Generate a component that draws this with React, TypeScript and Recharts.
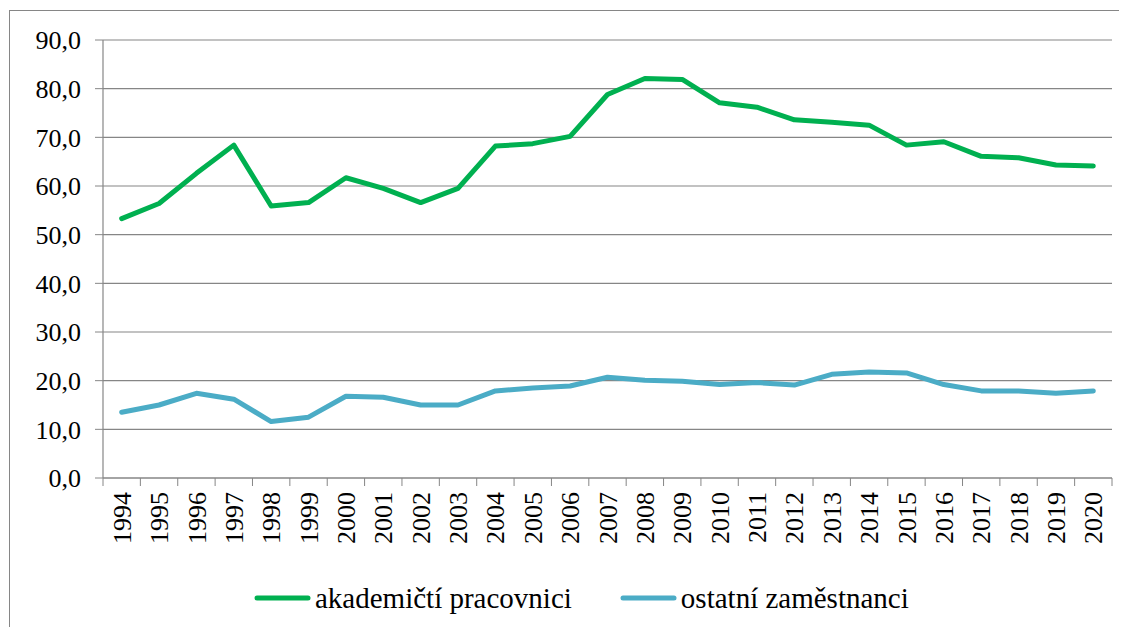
import React from "react";
import { LineChart, Line, XAxis, YAxis, CartesianGrid, Legend } from "recharts";

const years = [
  "1994", "1995", "1996", "1997", "1998", "1999", "2000", "2001", "2002",
  "2003", "2004", "2005", "2006", "2007", "2008", "2009", "2010", "2011",
  "2012", "2013", "2014", "2015", "2016", "2017", "2018", "2019", "2020",
];

const akademicti = [
  53.3, 56.4, 62.6, 68.4, 55.9, 56.6, 61.7, 59.5, 56.6, 59.5, 68.2, 68.7,
  70.2, 78.8, 82.1, 81.9, 77.1, 76.2, 73.6, 73.1, 72.5, 68.4, 69.1, 66.1,
  65.8, 64.3, 64.1,
];

const ostatni = [
  13.5, 15.0, 17.4, 16.2, 11.6, 12.5, 16.8, 16.6, 15.0, 15.0, 17.9, 18.5,
  18.9, 20.7, 20.1, 19.9, 19.2, 19.6, 19.1, 21.3, 21.8, 21.6, 19.2, 17.9,
  17.9, 17.4, 17.9,
];

const yTicks = [0, 10, 20, 30, 40, 50, 60, 70, 80, 90];

const seriesNames = ["akademičtí pracovnici", "ostatní zaměstnanci"];
const seriesColors = ["#00B050", "#4BACC6"];

const data = years.map((y, i) => ({
  year: y,
  akademicti: akademicti[i],
  ostatni: ostatni[i],
}));

const W = 1119;
const H = 619;
const margin = { top: 32, right: 15, left: 0, bottom: 0 };
const yAxisWidth = 95;
const plotW = W - margin.left - margin.right - yAxisWidth;
const half = plotW / years.length / 2;
const font = "Liberation Serif, DejaVu Serif, serif";
const gray = "#868686";

const YearTick = (props: any) => {
  const { x, y, payload, index } = props;
  const axisY = y - 14;
  return (
    <g>
      <line x1={x - half} x2={x - half} y1={axisY} y2={axisY + 8} stroke={gray} />
      {index === years.length - 1 && (
        <line x1={x + half} x2={x + half} y1={axisY} y2={axisY + 8} stroke={gray} />
      )}
      <text
        transform={`translate(${x},${y}) rotate(-90)`}
        textAnchor="end"
        dy="0.35em"
        style={{ fontFamily: font }}
        fontSize={26}
        fill="#000"
      >
        {payload.value}
      </text>
    </g>
  );
};

const LegendContent = () => (
  <div style={{ display: "flex", alignItems: "center", fontFamily: font, fontSize: 29, color: "#000" }}>
    {seriesNames.map((name, i) => (
      <div key={name} style={{ display: "flex", alignItems: "center", marginRight: 48 }}>
        <svg width={57} height={10} style={{ marginRight: 4 }}>
          <line x1={3} x2={54} y1={5} y2={5} stroke={seriesColors[i]} strokeWidth={5} strokeLinecap="round" />
        </svg>
        <span>{name}</span>
      </div>
    ))}
  </div>
);

export default function App() {
  return (
    <div style={{ position: "relative", width: W, height: H, overflow: "hidden", fontFamily: font }}>
      <div
        style={{
          position: "absolute",
          left: 1,
          top: 2,
          width: 1300,
          height: 800,
          borderLeft: `1px solid ${gray}`,
          borderTop: `1px solid ${gray}`,
        }}
      />
      <LineChart width={W} height={H} data={data} margin={margin} style={{ position: "absolute", left: 0, top: 0, fontFamily: font }}>
        <CartesianGrid vertical={false} stroke={gray} strokeWidth={1.2} />
        <XAxis
          dataKey="year"
          interval={0}
          padding={{ left: half, right: half }}
          height={109}
          tickLine={false}
          tickSize={8}
          tickMargin={6}
          axisLine={{ stroke: gray, strokeWidth: 1.2 }}
          tick={<YearTick />}
        />
        <YAxis
          domain={[0, 90]}
          ticks={yTicks}
          width={yAxisWidth}
          tickSize={8}
          tickMargin={14}
          axisLine={{ stroke: gray, strokeWidth: 1.2 }}
          tickLine={{ stroke: gray }}
          tickFormatter={(v: number) => v.toFixed(1).replace(".", ",")}
          tick={{ fill: "#000", fontSize: 26, style: { fontFamily: font } }}
        />
        <Legend
          verticalAlign="bottom"
          height={40}
          content={<LegendContent />}
          wrapperStyle={{ left: 246, top: 570, width: 850, height: 40, display: "flex", alignItems: "center" }}
        />
        <Line
          dataKey="akademicti"
          name={seriesNames[0]}
          stroke={seriesColors[0]}
          strokeWidth={5}
          strokeLinejoin="round"
          strokeLinecap="round"
          dot={false}
          isAnimationActive={false}
        />
        <Line
          dataKey="ostatni"
          name={seriesNames[1]}
          stroke={seriesColors[1]}
          strokeWidth={5}
          strokeLinejoin="round"
          strokeLinecap="round"
          dot={false}
          isAnimationActive={false}
        />
      </LineChart>
    </div>
  );
}
